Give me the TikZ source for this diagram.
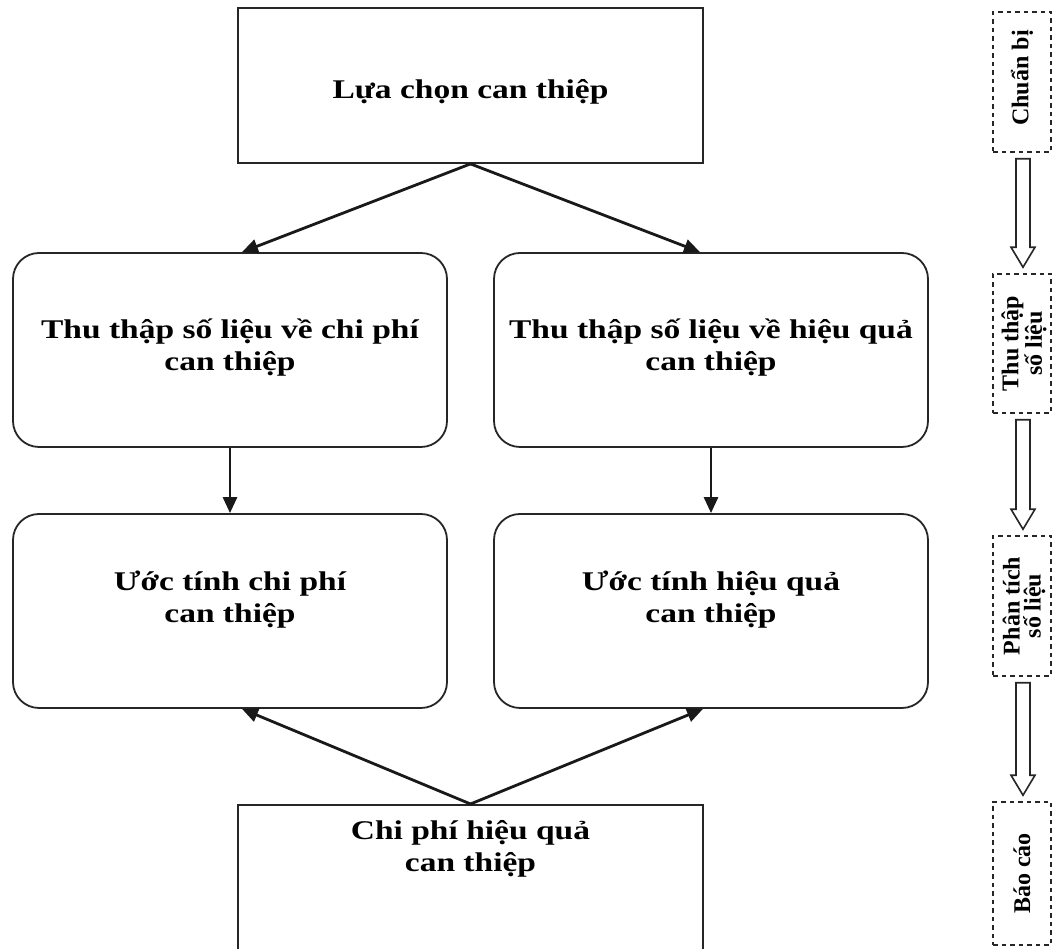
\documentclass[tikz,border=0pt]{standalone}
\usepackage{fontspec}
\setmainfont{Liberation Serif}
\newfontfamily\widefont{Liberation Serif}[FakeStretch=1.24]
\usetikzlibrary{arrows.meta,calc}
\tikzset{
  x=1pt,y=1pt,
  plainbox/.style={draw=black!85,line width=1.8pt,rectangle,minimum width=465pt,inner sep=0pt},
  roundbox/.style={draw=black!85,line width=1.8pt,rectangle,rounded corners=26pt,minimum width=434pt,minimum height=194pt,inner sep=0pt},
  boxtext/.style={align=center,font=\widefont\fontsize{27}{32}\selectfont\bfseries,inner sep=0pt},
  stagebox/.style={draw=black!85,line width=1.5pt,dash pattern=on 4.5pt off 4pt,rectangle,minimum width=58pt,inner sep=0pt},
  stagetext/.style={rotate=90,align=center,font=\fontsize{24}{21}\selectfont\bfseries,inner sep=0pt},
  flowarrow/.style={line width=2.8pt,draw=black!90,-{Triangle[length=16pt,width=14pt]}},
  hollow/.style={draw=black!85,line width=1.6pt,fill=white,line join=miter}
}
\begin{document}
\begin{tikzpicture}
\useasboundingbox (0,0) rectangle (1054,949);
\clip (0,0) rectangle (1054,949);
% main flow
\node[plainbox,minimum height=155pt] (top) at (470.5,863.5) {};
\node[boxtext] (toptxt) at (470.5,857) {Lựa chọn can thiệp};
\node[roundbox] (lu) at (230,599) {};
\node[roundbox] (ru) at (711,599) {};
\node[roundbox] (ll) at (230,338) {};
\node[roundbox] (rl) at (711,338) {};
\node[boxtext] (lut) at (230,601) {Thu thập số liệu về chi phí\\can thiệp};
\node[boxtext] (rut) at (711,601) {Thu thập số liệu về hiệu quả\\can thiệp};
\node[boxtext] (llt) at (230,349) {Ước tính chi phí\\can thiệp};
\node[boxtext] (rlt) at (711,349) {Ước tính hiệu quả\\can thiệp};
\node[plainbox,minimum height=180pt,anchor=north] (bot) at (470.5,145) {};
\node[boxtext] (bottxt) at (470.5,100) {Chi phí hiệu quả\\can thiệp};
\draw[flowarrow] (top.south) -- ([xshift=12pt]lu.north);
\draw[flowarrow] (top.south) -- ([xshift=-11pt]ru.north);
\draw[flowarrow] (lu.south) -- (ll.north);
\draw[flowarrow] (ru.south) -- (rl.north);
\draw[flowarrow] (bot.north) -- ([xshift=12pt]ll.south);
\draw[flowarrow] (bot.north) -- ([xshift=-8pt]rl.south);
% stages
\node[stagebox,minimum height=140pt] (s1) at (1022,867) {};
\node[stagebox,minimum height=139pt] (s2) at (1022,605.5) {};
\node[stagebox,minimum height=140pt] (s3) at (1022,343) {};
\node[stagebox,minimum height=143pt] (s4) at (1022,75.5) {};
\node[stagetext] (t1) at ([yshift=4pt]s1.center) {Chuẩn bị};
\node[stagetext] (t2) at ([xshift=2pt]s2.center) {Thu thập\\số liệu};
\node[stagetext] (t3) at ([xshift=2pt]s3.center) {Phân tích\\số liệu};
\node[stagetext] (t4) at (s4) {Báo cáo};
\foreach \a/\b in {s1/s2,s2/s3,s3/s4}{
  \draw[hollow] let \p1=(\a.south), \p2=(\b.north) in
    (\x1-6pt,\y1-6pt) -- (\x1+8pt,\y1-6pt) -- (\x1+8pt,\y2+26pt) -- (\x1+13pt,\y2+26pt)
    -- (\x1+1pt,\y2+6pt) -- (\x1-11pt,\y2+26pt) -- (\x1-6pt,\y2+26pt) -- cycle;
}
\end{tikzpicture}
\end{document}
